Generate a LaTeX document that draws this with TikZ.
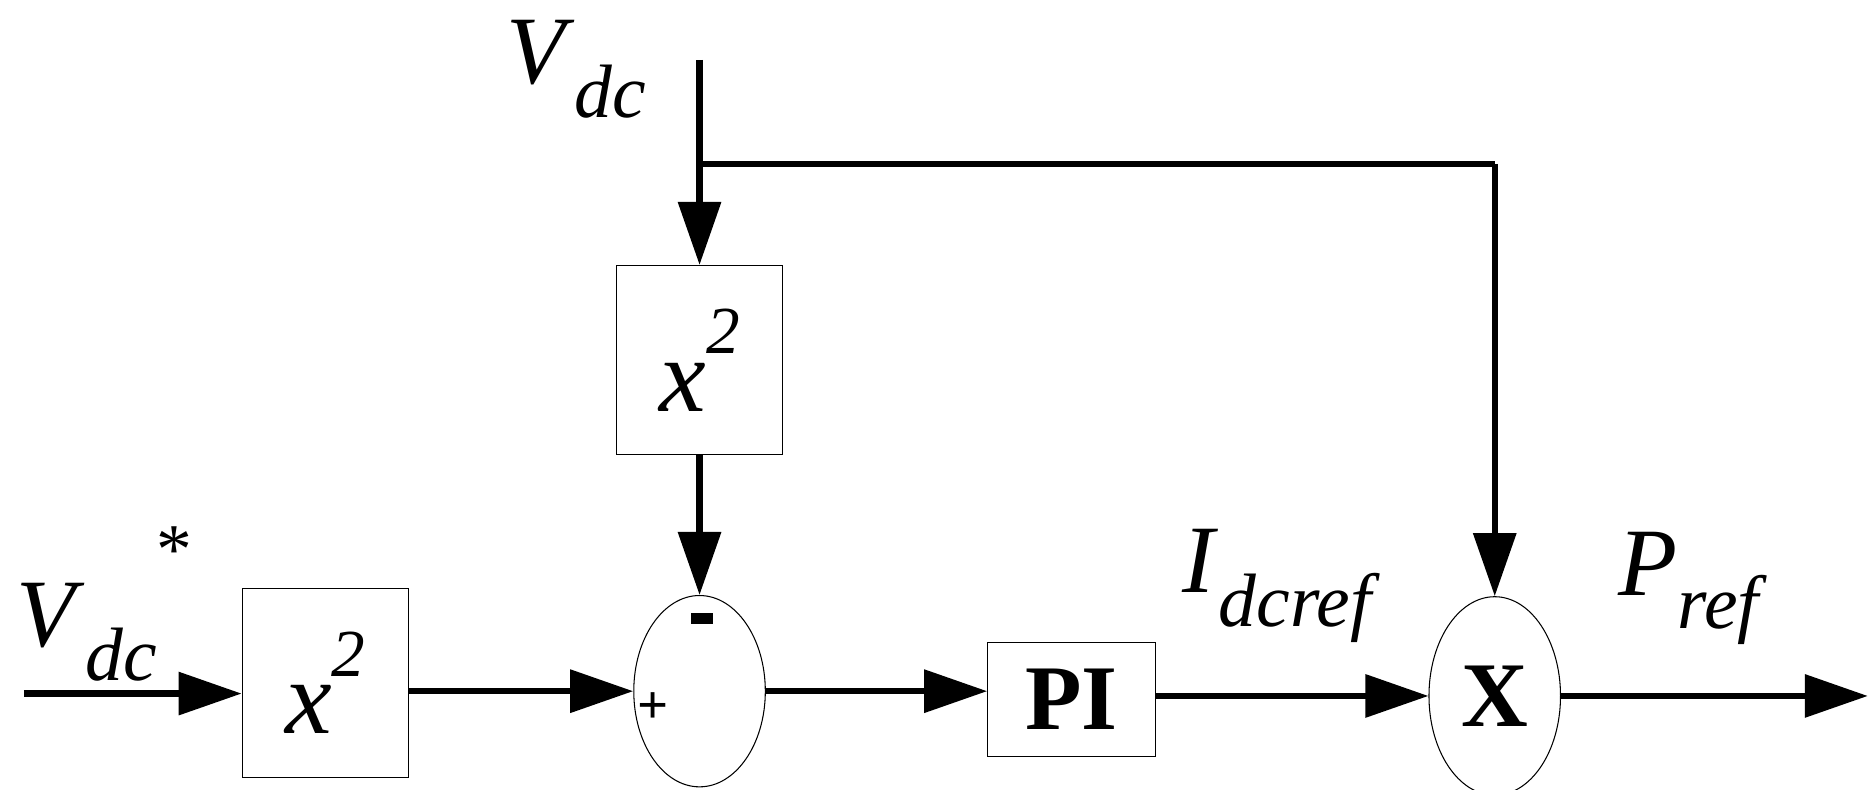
\documentclass[tikz,border=0pt]{standalone}
\usepackage{fontspec}
\setmainfont{Liberation Serif}
\usetikzlibrary{arrows.meta,shapes.geometric}
\newcommand{\mylab}[2]{\textit{#1}\raisebox{-0.35em}{\fontsize{36}{36}\selectfont\itshape #2}}
\newcommand{\mysq}{\textit{x}\raisebox{0.55em}{\fontsize{32}{32}\selectfont\itshape 2}}
\begin{document}
\begin{tikzpicture}[x=0.02cm,y=-0.02cm,
  wire/.style={line width=3pt,-{Triangle[length=30pt,width=20pt]}},
  plain/.style={line width=3pt},
  blk/.style={draw,line width=0.5pt,inner sep=0},
  lbl/.style={font=\fontsize{46}{50}\selectfont}]
\useasboundingbox (0,0) rectangle (1568,660);
\node[blk,minimum width=139*0.02cm,minimum height=158*0.02cm,font=\fontsize{50}{54}\selectfont] (sq1) at (585,301) {\mysq};
\node[blk,minimum width=139*0.02cm,minimum height=158*0.02cm,font=\fontsize{50}{54}\selectfont] (sq2) at (272,571) {\mysq};
\node[blk,ellipse,minimum width=110*0.02cm,minimum height=160*0.02cm] (sum) at (585,578) {};
\node[font=\bfseries\fontsize{26}{26}\selectfont] at (546,592) {+};
\fill (578,513) rectangle (596,522);
\node[blk,minimum width=140*0.02cm,minimum height=96*0.02cm,font=\bfseries\fontsize{44}{48}\selectfont] (pi) at (896,585) {PI};
\node[blk,ellipse,minimum width=110*0.02cm,minimum height=166*0.02cm,font=\bfseries\fontsize{44}{48}\selectfont] (mul) at (1250,582) {X};
\coordinate (top) at (585,50);
\coordinate (br) at (585,137);
\coordinate (brr) at (1250,137);
\coordinate (in) at (20,580);
\coordinate (out) at (1562,582);
\node[lbl] at (482,58) {\mylab{V}{dc}};
\node[lbl,anchor=west] at (8,505) {\mylab{V}{dc}\raisebox{0.75em}{\fontsize{34}{34}\selectfont *}};
\node[lbl] at (1068,490) {\mylab{I}{dcref}};
\node[lbl] at (1412,492) {\mylab{P}{ref}};
\draw[wire] (top) -- (sq1.north);
\draw[plain] (br) -- (brr);
\draw[wire] (brr) -- (mul.north);
\draw[wire] (sq1.south) -- (sum.north);
\draw[wire] (in) -- (sq2.west |- in);
\draw[wire] (sq2.east |- sum.west) -- (sum.west);
\draw[wire] (sum.east) -- (pi.west |- sum.east);
\draw[wire] (pi.east |- mul.west) -- (mul.west);
\draw[wire] (mul.east) -- (out);
\end{tikzpicture}
\end{document}
